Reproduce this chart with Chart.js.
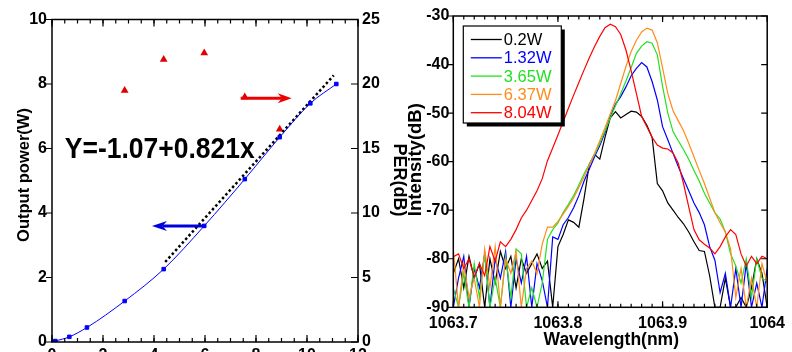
<!DOCTYPE html>
<html>
<head>
<meta charset="utf-8">
<script src="https://cdn.jsdelivr.net/npm/chart.js@4.4.0/dist/chart.umd.min.js"></script>
<style>
  html, body { margin: 0; padding: 0; background: #fff; overflow: hidden; }
  #wrap { position: relative; width: 792px; height: 352px; overflow: hidden; background: #fff; }
  #left { position: absolute; left: 0; top: 0; width: 410px; height: 400px; }
  #right { position: absolute; left: 395px; top: 0; width: 397px; height: 352px; }
</style>
</head>
<body>
<div id="wrap">
  <canvas id="left" width="410" height="400"></canvas>
  <canvas id="right" width="397" height="352"></canvas>
</div>
<script>
// ---- left panel: output power and PER ----
const pump    = [0, 0.13, 0.68, 1.37, 2.85, 4.38, 5.97, 7.56, 8.93, 10.13, 11.15];
const power   = [0, 0.03, 0.16, 0.45, 1.27, 2.26, 3.60, 5.05, 6.35, 7.40, 8.00];
const perPump = [2.85, 4.38, 5.97, 7.56, 8.93];
const perDb   = [19.5, 21.9, 22.4, 19.0, 16.5];
const fitX    = [4.44, 11.05];
const fitY    = [2.48, 8.27];
const pumpTicks  = [0, 2, 4, 6, 8, 10, 12];
const powerTicks = [0, 2, 4, 6, 8, 10];
const perTicks   = [0, 5, 10, 15, 20, 25];
const eqText = 'Y=-1.07+0.821x';

// ---- right panel: spectra ----
const wl = [1063.700, 1063.705, 1063.710, 1063.715, 1063.720, 1063.725, 1063.730, 1063.735, 1063.740, 1063.745,
            1063.750, 1063.755, 1063.760, 1063.765, 1063.770, 1063.775, 1063.780, 1063.785, 1063.790, 1063.795,
            1063.800, 1063.805, 1063.810, 1063.815, 1063.820, 1063.825, 1063.830, 1063.835, 1063.840, 1063.845,
            1063.850, 1063.855, 1063.860, 1063.865, 1063.870, 1063.875, 1063.880, 1063.885, 1063.890, 1063.895,
            1063.900, 1063.905, 1063.910, 1063.915, 1063.920, 1063.925, 1063.930, 1063.935, 1063.940, 1063.945,
            1063.950, 1063.955, 1063.960, 1063.965, 1063.970, 1063.975, 1063.980, 1063.985, 1063.990, 1063.995,
            1064.000];
const s02 = [-83, -80, -86, -79.5, -84, -81, -90, -80, -85, -78.5,
             -82, -79.5, -86, -80, -83, -81, -79, -82, -80.5, -90,
             -77.5, -75, -72, -72.5, -73.5, -67.5, -60.5, -58.5, -59.5, -55,
             -51, -49.7, -51, -50.3, -49.6, -49.8, -50.7, -52.5, -55, -64.5,
             -66, -68.5, -70, -71.5, -72.8, -74.5, -76.5, -78.3, -78.5, -83.5,
             -90, -90, -84, -90, -90, -88, -90, -86, -80, -83,
             -90];
const s132 = [-90, -84, -79.5, -90, -82, -86, -79, -90, -80, -84,
              -78.5, -90, -80, -85, -79.5, -90, -81, -84.5, -90, -75.5,
              -76, -73, -71.5, -69.5, -67, -64, -61.5, -59, -56.7, -54,
              -50.7, -48.2, -46.6, -44.6, -42.3, -40.8, -39.6, -40.5, -43.5, -47.3,
              -52.8, -55.5, -58.3, -61, -63.5, -66, -68.5, -70.5, -73, -77.5,
              -80.3, -87, -83, -90, -82, -90, -81, -90, -85, -90,
              -82];
const s365 = [-86, -90, -83, -90, -81, -88, -79, -90, -84, -90,
              -79.5, -88, -78, -79, -90, -86, -90, -85, -76, -74,
              -72.6, -70.5, -68.8, -67, -64.8, -62.5, -60.5, -58.6, -56.2, -53.7,
              -51, -48.5, -46, -43.4, -40.6, -37.7, -36.2, -35.3, -35.6, -38,
              -44.5, -50, -53.8, -55.7, -57.5, -59.5, -61.8, -64, -66.5, -68.5,
              -70.5, -71.8, -74.5, -79, -81.5, -85, -80, -88, -80, -84,
              -84.7];
const s637 = [-78, -90, -81, -88, -84, -90, -78, -86, -77.5, -90,
              -80, -83, -78.5, -90, -82, -80.5, -83, -77, -73.5, -73.5,
              -72.3, -70.8, -69.2, -67.5, -65.3, -63.1, -60.7, -58.3, -55.7, -53,
              -50.2, -47.4, -43.9, -40.4, -37.3, -35, -33.3, -32.5, -32.9, -35.5,
              -40.7, -46, -49.5, -51.6, -53.6, -56.2, -59, -61.8, -64.5, -67.5,
              -70.5, -72.6, -74.5, -78, -88, -82, -90, -84, -90, -81,
              -85];
const s804 = [-79.6, -79, -82, -80, -83.7, -81, -83.5, -77.5, -80.5, -76.5,
              -77.5, -76, -74, -71.6, -70, -68, -66, -63.5, -59.8, -57.2,
              -54.5, -51.8, -49, -46.3, -43.7, -41.1, -38.6, -36.3, -34.2, -32.4,
              -31.7, -32.2, -33.8, -37, -41.3, -46, -50.7, -52.8, -55, -56.6,
              -57.2, -57.4, -58.2, -60.3, -64.5, -69.3, -74, -76.1, -77, -77.8,
              -79, -77.5, -75.5, -74, -75, -79, -81.5, -79.5, -81, -79.5,
              -80];
const specLabels = ['0.2W', '1.32W', '3.65W', '6.37W', '8.04W'];
const specColors = ['#000000', '#0000ff', '#22e022', '#ff8c1a', '#ff0000'];
const specValues = [s02, s132, s365, s637, s804];
const wlTicks = [1063.7, 1063.8, 1063.9, 1064.0];
const dbTicks = [-90, -80, -70, -60, -50, -40, -30];

const FONT = '"Liberation Sans", Arial, sans-serif';
const tickFont = { family: FONT, size: 16, weight: 'bold' };

function setTicks(list) {
  return s => { s.ticks = list.map(v => ({ value: v })); };
}

function minors(a, b, step) {
  const out = [];
  const n = Math.round((b - a) / step);
  for (let i = 0; i <= n; i++) out.push(a + i * step);
  return out;
}

// tick marks drawn along the frame (inward or outward)
function tickMarks(ctx, area, scale, vals, len, side, inward) {
  ctx.beginPath();
  vals.forEach(v => {
    const p = scale.getPixelForValue(v);
    if (side === 'left' || side === 'right') {
      const x0 = side === 'left' ? area.left : area.right;
      const d = (side === 'left' ? 1 : -1) * (inward ? 1 : -1) * len;
      ctx.moveTo(x0, p); ctx.lineTo(x0 + d, p);
    } else {
      const y0 = side === 'top' ? area.top : area.bottom;
      const d = (side === 'top' ? 1 : -1) * (inward ? 1 : -1) * len;
      ctx.moveTo(p, y0); ctx.lineTo(p, y0 + d);
    }
  });
  ctx.stroke();
}

function arrow(ctx, x1, y1, x2, y2, color, w, headLen, headHalf) {
  const dir = Math.sign(x2 - x1);
  ctx.strokeStyle = color; ctx.fillStyle = color; ctx.lineWidth = w;
  ctx.beginPath(); ctx.moveTo(x1, y1); ctx.lineTo(x2 - dir * headLen * 0.7, y2); ctx.stroke();
  ctx.beginPath();
  ctx.moveTo(x2, y2);
  ctx.lineTo(x2 - dir * headLen, y2 - headHalf);
  ctx.lineTo(x2 - dir * headLen * 0.7, y2);
  ctx.lineTo(x2 - dir * headLen, y2 + headHalf);
  ctx.closePath(); ctx.fill();
}

function vText(ctx, text, x, y, size, angle) {
  ctx.save();
  ctx.translate(x, y);
  ctx.rotate(angle);
  ctx.font = 'bold ' + size + 'px ' + FONT;
  ctx.fillStyle = '#000';
  ctx.textAlign = 'center';
  ctx.textBaseline = 'middle';
  ctx.fillText(text, 0, 0);
  ctx.restore();
}

const leftDeco = {
  id: 'leftDeco',
  afterDraw(chart) {
    const ctx = chart.ctx, a = chart.chartArea;
    const sx = chart.scales.x, sy = chart.scales.y, sy1 = chart.scales.y1;
    ctx.save();
    ctx.strokeStyle = '#000';
    ctx.lineWidth = 1.5;
    ctx.strokeRect(a.left, a.top, a.right - a.left, a.bottom - a.top);
    ctx.lineWidth = 1.2;
    tickMarks(ctx, a, sy, powerTicks, 6, 'left', false);
    tickMarks(ctx, a, sy1, perTicks, 7, 'right', true);
    tickMarks(ctx, a, sx, pumpTicks, 7, 'bottom', true);
    tickMarks(ctx, a, sx, pumpTicks, 7, 'top', true);
    const mx = minors(0, 12, 0.5);
    tickMarks(ctx, a, sx, mx, 4, 'bottom', true);
    tickMarks(ctx, a, sx, mx, 4, 'top', true);

    vText(ctx, 'Output power(W)', 24, 175, 16.5, -Math.PI / 2);
    vText(ctx, 'PER(dB)', 399, 180, 18, Math.PI / 2);

    // fit equation
    ctx.font = 'bold 29px ' + FONT;
    ctx.fillStyle = '#000';
    ctx.textAlign = 'left';
    ctx.textBaseline = 'alphabetic';
    ctx.fillText(eqText, sx.getPixelForValue(0.5), sy.getPixelForValue(5.7), 190);

    // axis arrows
    arrow(ctx, sx.getPixelForValue(6.0), sy.getPixelForValue(3.6),
          sx.getPixelForValue(3.92), sy.getPixelForValue(3.6), '#0000dd', 3, 15, 5);
    arrow(ctx, sx.getPixelForValue(7.4), sy1.getPixelForValue(18.9),
          sx.getPixelForValue(9.4), sy1.getPixelForValue(18.9), '#ee0000', 3, 14, 5);
    ctx.restore();
  }
};

new Chart(document.getElementById('left'), {
  type: 'line',
  data: {
    datasets: [
      {
        label: 'Output power',
        data: pump.map((x, i) => ({ x: x, y: power[i] })),
        yAxisID: 'y',
        borderColor: '#0000ff',
        backgroundColor: '#0000ff',
        borderWidth: 1,
        pointStyle: 'rect',
        pointRadius: 2.5,
        cubicInterpolationMode: 'monotone'
      },
      {
        label: 'Fit',
        data: fitX.map((x, i) => ({ x: x, y: fitY[i] })),
        yAxisID: 'y',
        borderColor: '#000',
        borderWidth: 2.5,
        borderDash: [2.5, 2.5],
        pointRadius: 0
      },
      {
        label: 'PER',
        data: perPump.map((x, i) => ({ x: x, y: perDb[i] })),
        yAxisID: 'y1',
        showLine: false,
        pointStyle: 'triangle',
        pointRadius: 4.5,
        borderWidth: 0,
        backgroundColor: '#e00000',
        borderColor: '#e00000'
      }
    ]
  },
  options: {
    responsive: false,
    animation: false,
    devicePixelRatio: 1,
    events: [],
    layout: { padding: { top: 19.5, left: 0, right: 0, bottom: 0 } },
    plugins: { legend: { display: false }, tooltip: { enabled: false } },
    scales: {
      x: {
        type: 'linear', min: 0, max: 12,
        grid: { display: false, drawTicks: false }, border: { display: false },
        afterBuildTicks: setTicks(pumpTicks),
        ticks: { padding: 4, font: tickFont, color: '#000', autoSkip: false, maxRotation: 0 },
        afterFit: s => { s.height = 58; }
      },
      y: {
        type: 'linear', position: 'left', min: 0, max: 10,
        grid: { display: false, drawTicks: false }, border: { display: false },
        afterBuildTicks: setTicks(powerTicks),
        ticks: { padding: 5, font: tickFont, color: '#000' },
        afterFit: s => { s.width = 52; }
      },
      y1: {
        type: 'linear', position: 'right', min: 0, max: 25,
        grid: { display: false, drawTicks: false }, border: { display: false },
        afterBuildTicks: setTicks(perTicks),
        ticks: { padding: 4, font: tickFont, color: '#000' },
        afterFit: s => { s.width = 52; }
      }
    }
  },
  plugins: [leftDeco]
});

const rightDeco = {
  id: 'rightDeco',
  afterDraw(chart) {
    const ctx = chart.ctx, a = chart.chartArea;
    const sx = chart.scales.x, sy = chart.scales.y;
    ctx.save();
    ctx.strokeStyle = '#000';
    ctx.lineWidth = 1.5;
    ctx.strokeRect(a.left, a.top, a.right - a.left, a.bottom - a.top);
    ctx.lineWidth = 1.2;
    tickMarks(ctx, a, sy, dbTicks, 6, 'left', false);
    tickMarks(ctx, a, sy, dbTicks, 6, 'right', true);
    tickMarks(ctx, a, sx, wlTicks, 6, 'bottom', true);
    tickMarks(ctx, a, sx, wlTicks, 6, 'top', true);
    const mx = minors(1063.7, 1064.0, 0.01);
    tickMarks(ctx, a, sx, mx, 3.5, 'bottom', true);
    tickMarks(ctx, a, sx, mx, 3.5, 'top', true);

    vText(ctx, 'Intensity(dB)', 20.5, (a.top + a.bottom) / 2 - 2, 18.5, -Math.PI / 2);
    ctx.font = 'bold 17.5px ' + FONT;
    ctx.fillStyle = '#000';
    ctx.textAlign = 'center';
    ctx.textBaseline = 'alphabetic';
    ctx.fillText('Wavelength(nm)', (a.left + a.right) / 2 + 1, 345);

    // legend box with drop shadow
    const bx = 68.3, by = 26, bw = 98, bh = 97;
    ctx.fillStyle = '#000';
    ctx.fillRect(bx + 3.5, by + 3.5, bw, bh);
    ctx.fillStyle = '#fff';
    ctx.fillRect(bx, by, bw, bh);
    ctx.lineWidth = 1.2;
    ctx.strokeStyle = '#000';
    ctx.strokeRect(bx, by, bw, bh);
    ctx.font = '16.5px ' + FONT;
    ctx.textAlign = 'left';
    ctx.textBaseline = 'middle';
    specLabels.forEach((lab, i) => {
      const y = 39.5 + i * 18.3;
      ctx.strokeStyle = specColors[i];
      ctx.lineWidth = 1.3;
      ctx.beginPath(); ctx.moveTo(bx + 7.5, y); ctx.lineTo(bx + 38.5, y); ctx.stroke();
      ctx.fillStyle = specColors[i];
      ctx.fillText(lab, bx + 40.5, y + 1);
    });
    ctx.restore();
  }
};

new Chart(document.getElementById('right'), {
  type: 'line',
  data: {
    datasets: specValues.map((vals, k) => ({
      label: specLabels[k],
      data: wl.map((x, i) => ({ x: x, y: vals[i] })),
      borderColor: specColors[k],
      borderWidth: 1.2,
      pointRadius: 0,
      tension: 0,
      order: specValues.length - k
    }))
  },
  options: {
    responsive: false,
    animation: false,
    devicePixelRatio: 1,
    events: [],
    layout: { padding: { top: 16, left: 0, right: 19.3, bottom: 0 } },
    plugins: { legend: { display: false }, tooltip: { enabled: false } },
    scales: {
      x: {
        type: 'linear', min: 1063.7, max: 1064.0,
        grid: { display: false, drawTicks: false }, border: { display: false },
        afterBuildTicks: setTicks(wlTicks),
        ticks: { padding: 7, font: tickFont, color: '#000', autoSkip: false, maxRotation: 0,
                 callback: v => String(+v.toFixed(1)) },
        afterFit: s => { s.height = 352 - 307.3; }
      },
      y: {
        type: 'linear', position: 'left', min: -90, max: -30,
        grid: { display: false, drawTicks: false }, border: { display: false },
        afterBuildTicks: setTicks(dbTicks),
        ticks: { padding: 4, font: tickFont, color: '#000', callback: v => String(v) },
        afterFit: s => { s.width = 58.3; }
      }
    }
  },
  plugins: [rightDeco]
});
</script>
</body>
</html>
